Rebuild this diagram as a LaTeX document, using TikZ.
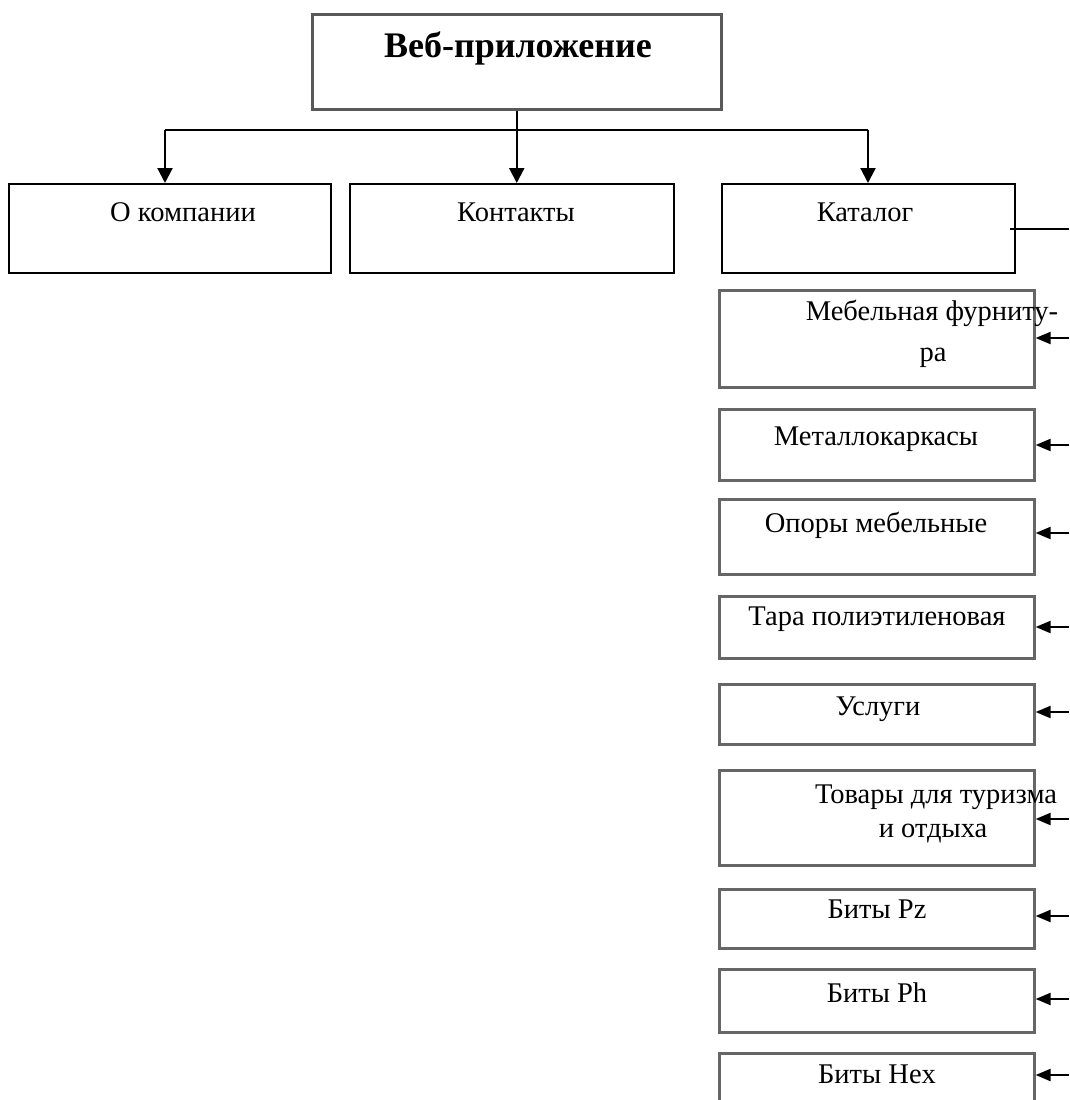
\documentclass[tikz,border=0pt]{standalone}
\usepackage{fontspec}
\setmainfont{Liberation Serif}
\usetikzlibrary{arrows.meta}
\begin{document}
\begin{tikzpicture}[x=1pt,y=-1pt,
  box/.style={draw=black, line width=2.2pt, inner sep=0pt, anchor=north west},
  rootbox/.style={box, draw=black!65, line width=2.5pt},
  subbox/.style={box, draw=black!60, line width=2.6pt, minimum width=315pt},
  lbl/.style={font=\fontsize{28.5}{33}\selectfont, anchor=base, inner sep=0pt},
  rootlbl/.style={font=\fontsize{36}{40}\selectfont\bfseries, anchor=base, inner sep=0pt},
  down/.style={line width=2.2pt, -{Triangle[width=15pt,length=15pt]}},
  feed/.style={line width=2.2pt, -{Triangle[width=12pt,length=15pt]}},
  bus/.style={line width=2.2pt}
]
\clip (0,0) rectangle (1069,1100);
\fill[white] (0,0) rectangle (1069,1100);

% root
\node[rootbox, minimum width=409pt, minimum height=95pt] (root) at (311,13) {};
\node[rootlbl] (troot) at (518,57) {Веб-приложение};

% first level
\node[box, minimum width=322pt, minimum height=89pt] (about) at (8,183) {};
\node[box, minimum width=324pt, minimum height=89pt] (contacts) at (349,183) {};
\node[box, minimum width=293pt, minimum height=89pt] (catalog) at (721,183) {};
\node[lbl] (tabout) at (183,221) {О компании};
\node[lbl] (tcontacts) at (516,221) {Контакты};
\node[lbl] (tcatalog) at (865,221) {Каталог};

% catalog sections
\node[subbox, minimum height=97pt] (s1) at (718,289) {};
\node[subbox, minimum height=71pt] (s2) at (718,408) {};
\node[subbox, minimum height=75pt] (s3) at (718,498) {};
\node[subbox, minimum height=62pt] (s4) at (718,595) {};
\node[subbox, minimum height=60pt] (s5) at (718,683) {};
\node[subbox, minimum height=95pt] (s6) at (718,769) {};
\node[subbox, minimum height=59pt] (s7) at (718,888) {};
\node[subbox, minimum height=63pt] (s8) at (718,968) {};
\node[subbox, minimum height=70pt] (s9) at (718,1052) {};

\node[lbl] (t1a) at (932,320) {Мебельная фурниту-};
\node[lbl] (t1b) at (933,361) {ра};
\node[lbl] (t2) at (876,445) {Металлокаркасы};
\node[lbl] (t3) at (876,532) {Опоры мебельные};
\node[lbl] (t4) at (877,625) {Тара полиэтиленовая};
\node[lbl] (t5) at (878,715) {Услуги};
\node[lbl] (t6a) at (936,803) {Товары для туризма};
\node[lbl] (t6b) at (933,837) {и отдыха};
\node[lbl] (t7) at (877,918) {Биты Pz};
\node[lbl] (t8) at (877,1002) {Биты Ph};
\node[lbl] (t9) at (877,1083) {Биты Hex};

% connectors from the root
\coordinate (busL) at (165,130);
\coordinate (busR) at (868,130);
\draw[bus] (busL) -- (busR);
\draw[down] (busL) -- (busL |- about.north);
\draw[down] (busR) -- (busR |- catalog.north);
\draw[down] (root.south) -- (root.south |- contacts.north);

% catalog trunk and feeds into sections
\coordinate (cout) at (1069,229);
\draw[bus] (cout -| catalog.east) ++(-6,0) -- (cout);
\foreach \n/\y in {s1/338, s2/445, s3/533, s4/627, s5/712, s6/819, s7/916, s8/999, s9/1075}{
  \coordinate (r-\n) at (1069,\y);
  \draw[feed] (r-\n) -- (r-\n -| \n.east);
}
\end{tikzpicture}
\end{document}
